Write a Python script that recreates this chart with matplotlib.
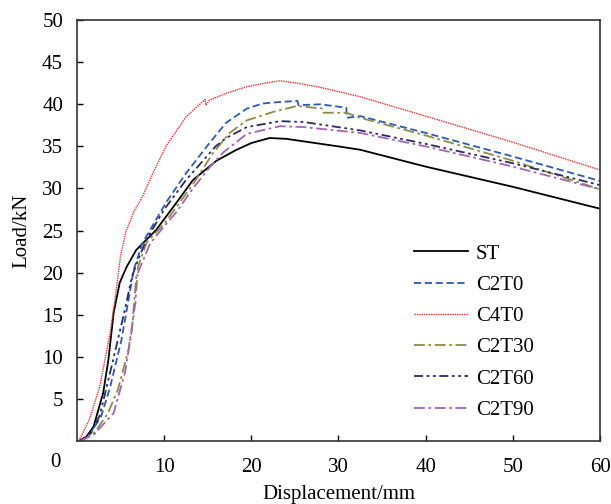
import matplotlib
matplotlib.use("Agg")
import matplotlib.pyplot as plt

plt.rcParams['font.family'] = ['Liberation Serif', 'DejaVu Serif']

# Displacement (mm) / Load (kN)
st_x = [0.2, 1.0, 1.9, 3.0, 3.6, 4.2, 4.9, 5.7, 6.8, 9.1, 11.4, 13.3, 16.0, 18.3, 20.0, 22.1, 24.0, 26.0, 30.0, 32.5, 40.0, 50.0, 60.0]
st_y = [0.0, 0.4, 1.7, 5.7, 9.6, 15.2, 18.8, 20.7, 22.7, 25.1, 28.3, 31.0, 33.3, 34.6, 35.4, 36.0, 35.9, 35.6, 35.0, 34.6, 32.6, 30.2, 27.6]

c2t0_x = [0.3, 1.5, 2.8, 3.8, 5.1, 5.9, 6.5, 7.5, 10.2, 12.5, 15.2, 17.1, 19.5, 21.3, 23.5, 25.3, 25.4, 27.9, 30.9, 30.95, 32.5, 40.0, 50.0, 60.0]
c2t0_y = [0.0, 0.8, 3.0, 6.4, 12.0, 16.7, 20.3, 23.5, 28.3, 31.8, 35.4, 37.8, 39.5, 40.1, 40.3, 40.4, 39.9, 40.0, 39.6, 38.4, 38.6, 36.6, 33.8, 30.9]

c4t0_x = [0.2, 1.4, 2.6, 3.8, 4.5, 5.0, 5.6, 6.5, 7.5, 8.8, 10.2, 12.5, 14.4, 14.7, 14.8, 15.2, 17.1, 19.5, 21.5, 23.3, 25.4, 28.0, 32.5, 40.0, 50.0, 60.0]
c4t0_y = [0.0, 2.5, 6.4, 12.8, 17.9, 22.0, 24.8, 27.2, 29.0, 32.0, 35.0, 38.5, 40.3, 40.6, 39.9, 40.5, 41.3, 42.1, 42.5, 42.8, 42.5, 42.0, 40.9, 38.6, 35.5, 32.2]

c2t30_x = [0.4, 2.0, 3.5, 4.7, 5.9, 6.7, 7.0, 8.0, 10.0, 13.3, 15.6, 17.5, 19.5, 22.5, 25.2, 28.2, 28.3, 30.9, 32.5, 40.0, 50.0, 60.0]
c2t30_y = [0.0, 1.0, 3.2, 6.1, 10.8, 16.4, 20.7, 23.6, 25.8, 30.5, 34.2, 36.6, 38.1, 39.1, 39.8, 39.5, 39.0, 39.0, 38.4, 36.3, 33.3, 29.9]

c2t60_x = [0.3, 1.5, 2.6, 3.4, 4.5, 5.5, 6.3, 7.0, 8.0, 10.0, 12.5, 15.9, 17.1, 19.5, 23.3, 26.0, 32.5, 40.0, 50.0, 60.0]
c2t60_y = [0.0, 0.8, 3.0, 6.4, 11.2, 15.6, 19.5, 21.5, 24.0, 27.5, 31.0, 35.0, 36.0, 37.3, 38.0, 37.9, 36.9, 35.3, 33.0, 30.4]

c2t90_x = [0.4, 2.0, 3.2, 4.2, 5.5, 6.3, 6.8, 8.4, 10.0, 11.4, 13.3, 15.2, 16.8, 19.5, 23.3, 26.0, 32.5, 40.0, 50.0, 60.0]
c2t90_y = [0.0, 0.8, 2.2, 3.3, 8.1, 13.2, 19.5, 23.5, 25.5, 27.2, 30.0, 32.5, 34.3, 36.5, 37.4, 37.3, 36.6, 35.0, 32.6, 29.9]

labels = ['ST', 'C2T0', 'C4T0', 'C2T30', 'C2T60', 'C2T90']
x_ticks = [10, 20, 30, 40, 50, 60]
y_ticks = [5, 10, 15, 20, 25, 30, 35, 40, 45, 50]

fig = plt.figure(figsize=(6.11, 5.04), dpi=100)
ax = fig.add_axes([0.126, 0.125, 0.856, 0.835])

lw = 1.3
ax.plot(st_x, st_y, color='black', lw=lw, ls='-', label=labels[0])
ax.plot(c2t0_x, c2t0_y, color='#2B5BB5', lw=lw, ls=(0, (4, 2)), label=labels[1])
ax.plot(c4t0_x, c4t0_y, color='#FF2A2A', lw=1.0, ls=(0, (1, 0.7)), label=labels[2])
ax.plot(c2t30_x, c2t30_y, color='#8C8C45', lw=lw, ls=(0, (6, 2, 1.5, 2)), label=labels[3])
ax.plot(c2t60_x, c2t60_y, color='#2A2A62', lw=lw, ls=(0, (5, 2, 1.5, 2, 1.5, 2)), label=labels[4])
ax.plot(c2t90_x, c2t90_y, color='#A662B4', lw=lw, ls=(0, (6, 2, 1.5, 2)), label=labels[5])

ax.set_xlim(0, 60)
ax.set_ylim(0, 50)
ax.set_xticks(x_ticks)
ax.set_yticks(y_ticks)
ax.tick_params(direction='in', length=4, width=1, labelsize=15, top=False, right=False, pad=12)
ax.tick_params(axis='y', pad=10)
for s in ax.spines.values():
    s.set_linewidth(1.2)
    s.set_color('#333333')
ax.text(-2.5, -1.45, '0', transform=ax.transData, ha='center', va='top', fontsize=15, clip_on=False)

ax.set_xlabel('Displacement/mm', fontsize=15, labelpad=6)
ax.set_ylabel('Load/kN', fontsize=15, labelpad=8)

ax.legend(loc='upper left', bbox_to_anchor=(0.645, 0.468), frameon=False, fontsize=15,
          handlelength=2.6, handletextpad=0.35, labelspacing=0.56, borderpad=0, borderaxespad=0)

fig.savefig('out.png', dpi=100)
